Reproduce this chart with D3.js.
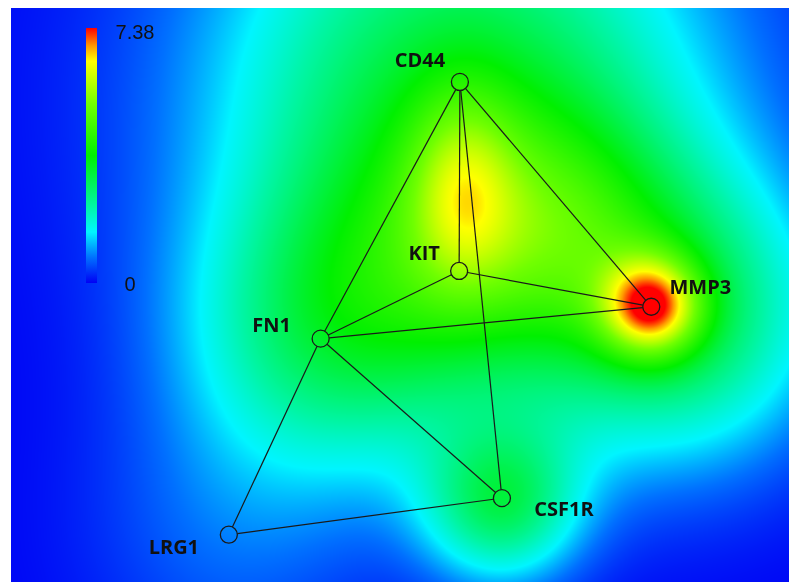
<!DOCTYPE html>
<html><head><meta charset="utf-8">
<script src="https://cdn.jsdelivr.net/npm/d3@7"></script>
<style>
body{margin:0;background:#fff;}
#wrap{position:relative;width:789px;height:582px;overflow:hidden;}
canvas,svg{position:absolute;left:0;top:0;}
</style>
</head><body>
<div id="wrap"><canvas id="heat" width="789" height="582"></canvas><svg id="net" width="789" height="582"></svg></div>
<script>
// ---- data (layout units: isotropic, x 0..100) ----
const nodeNames = ["CD44","KIT","MMP3","FN1","CSF1R","LRG1"];
const nodeX     = [57.7, 57.6, 82.3, 39.8, 63.1, 28.0];
const nodeY     = [ 9.5, 33.8, 38.4, 42.5, 63.0, 67.7];
const edgeSource = ["CD44","CD44","CD44","CD44","KIT","KIT","FN1","FN1","FN1","LRG1"];
const edgeTarget = ["KIT","MMP3","FN1","CSF1R","FN1","MMP3","MMP3","CSF1R","LRG1","CSF1R"];
// density field sources: centre, amplitude (value units), spread
const srcX     = [57.7, 57.6, 86.0, 39.8, 63.1, 58.0, 82.3, 28.0, 70.5];
const srcY     = [10.5, 33.8, 40.1, 42.5, 63.9, 23.2, 38.4, 67.7, 27.2];
const srcAmp   = [3.10, 1.60, 2.58, 1.85, 2.58, 1.75, 3.85, 0.59, 1.33];
const srcSX    = [22.5, 14.1, 12.9, 12.9,  7.1,  4.8,  4.4, 12.9, 10.3];
const srcSY    = [22.5, 14.1, 12.9, 12.9,  7.1,  8.8,  4.4, 12.9, 10.3];
const valueMin = 0, valueMax = 7.38;
const colorbarTicks = [0, 7.38];
const colorStops = [0, 0.1, 0.2, 0.3, 0.5, 0.7, 0.87, 0.93, 1];
const colorRange = ["#0000f5","#0070ff","#00f5ff","#00f5a5","#00f000","#70ff00","#ffff00","#ff9900","#ff0000"];

// ---- scales ----
const plot = {x0: 11, y0: 8, w: 778, h: 574};
const xs = d3.scaleLinear().domain([0, 100]).range([plot.x0, plot.x0 + plot.w]);
const ys = d3.scaleLinear().domain([0, plot.h / plot.w * 100]).range([plot.y0, plot.y0 + plot.h]);
const color = d3.scaleLinear().domain(colorStops.map(s => valueMin + s * (valueMax - valueMin))).range(colorRange).interpolate(d3.interpolateRgb).clamp(true);

const sources = srcX.map((x, i) => ({x, y: srcY[i], a: srcAmp[i], sx: srcSX[i], sy: srcSY[i]}));
function field(u, v) {
  let s = 0;
  for (const q of sources) {
    const dx = (u - q.x) / q.sx, dy = (v - q.y) / q.sy;
    s += q.a * Math.exp(-(dx*dx + dy*dy) / 2);
  }
  return Math.min(s, valueMax);
}

// ---- heatmap ----
const cv = document.getElementById("heat");
const ctx = cv.getContext("2d");
const img = ctx.createImageData(plot.w, plot.h);
for (let j = 0; j < plot.h; j++) {
  const v = ys.invert(plot.y0 + j + 0.5);
  for (let i = 0; i < plot.w; i++) {
    const u = xs.invert(plot.x0 + i + 0.5);
    const c = d3.rgb(color(field(u, v)));
    const k = (j * plot.w + i) * 4;
    img.data[k] = c.r; img.data[k+1] = c.g; img.data[k+2] = c.b; img.data[k+3] = 255;
  }
}
ctx.putImageData(img, plot.x0, plot.y0);

// ---- network ----
const svg = d3.select("#net");
const R = 8.5;
const nodes = nodeNames.map((n, i) => ({name: n, x: nodeX[i], y: nodeY[i]}));
const byName = Object.fromEntries(nodes.map(n => [n.name, n]));
const edges = edgeSource.map((s, i) => {
  const a = byName[s], b = byName[edgeTarget[i]];
  const x1 = xs(a.x), y1 = ys(a.y), x2 = xs(b.x), y2 = ys(b.y);
  const L = Math.hypot(x2 - x1, y2 - y1), ux = (x2 - x1) / L, uy = (y2 - y1) / L;
  return {x1: x1 + ux * R, y1: y1 + uy * R, x2: x2 - ux * R, y2: y2 - uy * R};
});

svg.append("g").selectAll("line").data(edges).join("line")
  .attr("x1", d => d.x1).attr("y1", d => d.y1).attr("x2", d => d.x2).attr("y2", d => d.y2)
  .attr("stroke", "#1a1a1a").attr("stroke-width", 1.2);

svg.append("g").selectAll("circle").data(nodes).join("circle")
  .attr("cx", d => xs(d.x)).attr("cy", d => ys(d.y)).attr("r", R)
  .attr("fill", "none").attr("stroke", "#1a1a1a").attr("stroke-width", 1.3);

const labelOffset = {CD44:[-40,-22], KIT:[-35,-18], MMP3:[49,-20], FN1:[-49,-14], CSF1R:[62,10], LRG1:[-55,12]};
svg.append("g").selectAll("text").data(nodes).join("text")
  .attr("x", d => xs(d.x) + labelOffset[d.name][0])
  .attr("y", d => ys(d.y) + labelOffset[d.name][1])
  .attr("text-anchor", "middle").attr("dominant-baseline", "central")
  .attr("font-family", "Open Sans, Liberation Sans, sans-serif").attr("font-weight", "bold")
  .attr("font-size", 20).attr("fill", "#111")
  .text(d => d.name);

// ---- colorbar ----
const cb = {x: 86, w: 11, y0: 283, y1: 28};
const cbScale = d3.scaleLinear().domain([valueMin, valueMax]).range([cb.y0, cb.y1]);
const defs = svg.append("defs");
const grad = defs.append("linearGradient").attr("id", "cbg").attr("x1", 0).attr("y1", 1).attr("x2", 0).attr("y2", 0);
grad.selectAll("stop").data(colorStops).join("stop")
  .attr("offset", d => d).attr("stop-color", (d, i) => colorRange[i]);
svg.append("rect").attr("x", cb.x).attr("y", cbScale(valueMax)).attr("width", cb.w)
  .attr("height", cbScale(valueMin) - cbScale(valueMax)).attr("fill", "url(#cbg)");
svg.append("g").selectAll("text").data(colorbarTicks).join("text")
  .attr("x", d => d === valueMax ? 135 : 130)
  .attr("y", d => cbScale(d) + (d === valueMax ? 4 : 1))
  .attr("text-anchor", "middle").attr("dominant-baseline", "central")
  .attr("font-family", "Liberation Sans, Arial, sans-serif").attr("font-size", 20).attr("fill", "#111")
  .text(d => d);
</script>
</body></html>
